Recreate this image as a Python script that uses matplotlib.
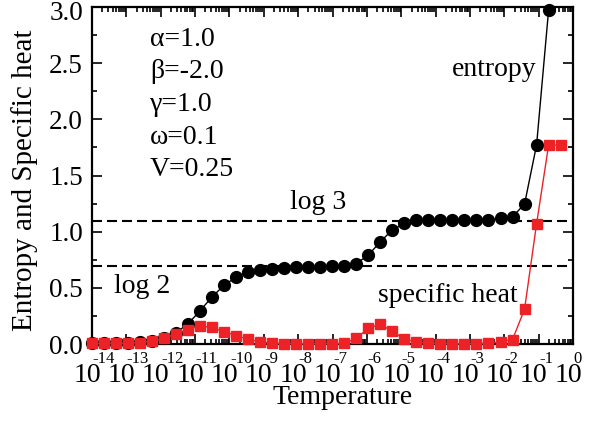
import matplotlib
matplotlib.use('Agg')
import matplotlib.pyplot as plt
import numpy as np

plt.rcParams['font.family'] = ['Liberation Serif', 'DejaVu Serif']

# temperatures: log10 T for each NRG point
logT = -14.01 + 0.35 * np.arange(40)

entropy = [0.005, 0.005, 0.005, 0.01, 0.015, 0.03, 0.05, 0.1, 0.178, 0.294,
           0.418, 0.522, 0.594, 0.64, 0.66, 0.672, 0.68, 0.685, 0.687, 0.688,
           0.69, 0.694, 0.716, 0.79, 0.91, 1.015, 1.074, 1.1, 1.104, 1.104,
           1.104, 1.104, 1.104, 1.105, 1.119, 1.133, 1.246, 1.772, 2.973]
spec_heat = [0.005, 0.005, 0.005, 0.008, 0.012, 0.025, 0.05, 0.09, 0.125, 0.162,
             0.147, 0.11, 0.075, 0.042, 0.02, 0.008, 0.004, 0.003, 0.003, 0.003,
             0.004, 0.005, 0.05, 0.14, 0.176, 0.112, 0.045, 0.018, 0.006, 0.004,
             0.003, 0.003, 0.004, 0.008, 0.02, 0.04, 0.31, 1.07, 1.77, 1.77]

decades = np.arange(-14, 1)
yticks = [0.0, 0.5, 1.0, 1.5, 2.0, 2.5, 3.0]
params = ['α=1.0', 'β=-2.0', 'γ=1.0', 'ω=0.1', 'V=0.25']

T = 10.0 ** logT
red = '#ec2226'
W, H = 600, 421

fig = plt.figure(figsize=(6, 4.21), dpi=100)
ax = fig.add_axes([92 / W, 1 - 344 / H, 481 / W, 337 / H])

ax.axhline(np.log(3), color='black', lw=1.5, ls=(0, (4.8, 2.4)), zorder=1)
ax.axhline(np.log(2), color='black', lw=1.5, ls=(0, (4.8, 2.4)), zorder=1)

ax.plot(T[:len(entropy)], entropy, '-o', color='black', lw=1.0, ms=8.5,
        zorder=3, clip_on=False)
ax.plot(T, spec_heat, '-s', color=red, lw=1.0, ms=7, zorder=4, clip_on=False)

ax.set_xscale('log')
ax.set_xlim(1e-14, 1e0)
ax.set_ylim(0, 3)

# x ticks: xmgrace style "10" with small raised exponent, drawn by hand
ax.set_xticks(10.0 ** decades)
ax.set_xticklabels([])
ax.xaxis.set_minor_locator(matplotlib.ticker.LogLocator(base=10, subs=np.arange(2, 10), numticks=100))
ax.xaxis.set_minor_formatter(matplotlib.ticker.NullFormatter())
for d in decades:
    ax.annotate('10', xy=(10.0 ** d, 0), xycoords=('data', 'axes fraction'),
                xytext=(-5, -19), textcoords='offset pixels',
                ha='center', va='top', fontsize=20)
    ax.annotate('%d' % d, xy=(10.0 ** d, 0), xycoords=('data', 'axes fraction'),
                xytext=(0.5, -7), textcoords='offset pixels',
                ha='left', va='top', fontsize=12)

# y ticks; the top label is drawn a little lower so it stays inside the figure
ax.set_yticks(yticks)
ax.set_yticklabels(['%.1f' % v for v in yticks[:-1]] + [''], fontsize=19.5)
ax.annotate('%.1f' % yticks[-1], xy=(0, yticks[-1]), xycoords=('axes fraction', 'data'),
            xytext=(-9, -3), textcoords='offset pixels',
            ha='right', va='center_baseline', fontsize=19.5)
ax.yaxis.set_minor_locator(matplotlib.ticker.MultipleLocator(0.25))

ax.tick_params(which='both', direction='in', top=True, right=True, width=1.2)
ax.tick_params(which='major', length=7)
ax.tick_params(which='minor', length=3.6)
ax.tick_params(axis='y', pad=6.5)
for s in ax.spines.values():
    s.set_linewidth(1.6)

fig.text(342.5 / W, 1 - 397 / H, 'Temperature', fontsize=20, ha='center', va='center')
fig.text(25 / W, 1 - 180.5 / H, 'Entropy and Specific heat', fontsize=21,
         rotation=90, ha='center', va='center')

for i, p in enumerate(params):
    fig.text(150 / W, 1 - (45.5 + 32.75 * i) / H, p, fontsize=20, va='baseline')

ax.text(2.95e-4, 2.44, 'entropy', fontsize=20, ha='left', va='center')
ax.text(2.1e-6, 0.436, 'specific heat', fontsize=20, ha='left', va='center')
ax.text(5.8e-9, 1.264, 'log 3', fontsize=20, ha='left', va='center')
ax.text(4.4e-14, 0.516, 'log 2', fontsize=20, ha='left', va='center')

fig.savefig('out.png', dpi=100)
